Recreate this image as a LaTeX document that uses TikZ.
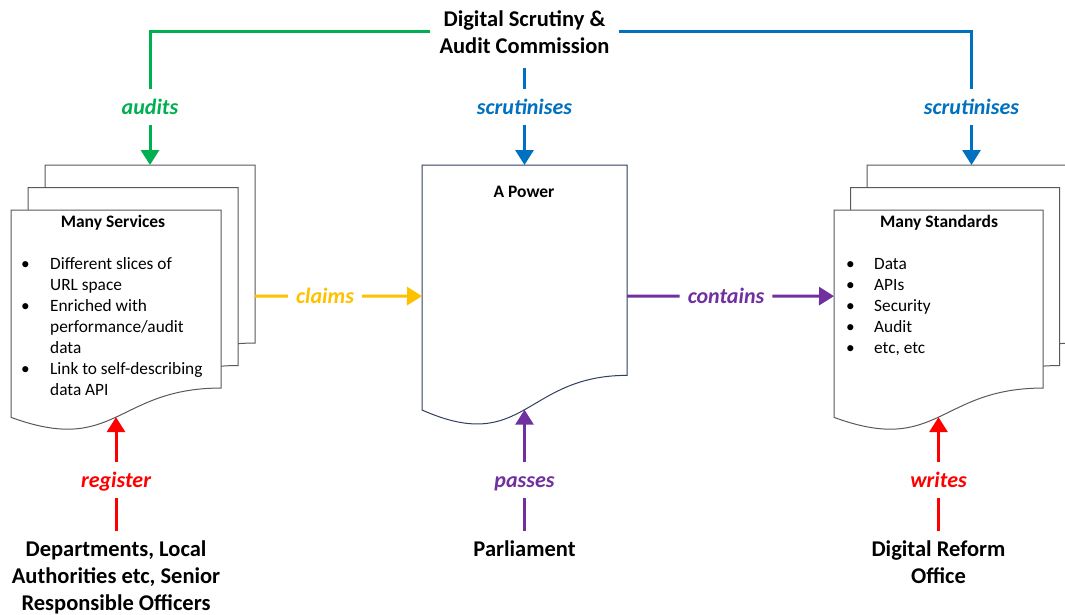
\documentclass[tikz,border=0pt]{standalone}
\usepackage{fontspec}
\setmainfont{Carlito}
\usetikzlibrary{arrows.meta}

\definecolor{audgreen}{HTML}{00B050}
\definecolor{scrblue}{HTML}{0070C0}
\definecolor{clmyellow}{HTML}{FFC000}
\definecolor{lawpurple}{HTML}{7030A0}
\definecolor{regred}{HTML}{FF0000}
\definecolor{pagegray}{HTML}{595959}
\definecolor{pagenavy}{HTML}{2F3F60}

% page with a wavy foot: [style]{name}{x}{y}{width}{height}
\newcommand\docpage[6][]{%
  \draw[page,#1] (#3,#4) -- ({#3+#5},#4) -- ({#3+#5},{#4+0.802*#6})
    .. controls ({#3+#5/2},{#4+0.802*#6}) and ({#3+#5/2},{#4+1.1075*#6}) .. (#3,{#4+0.934*#6}) -- cycle;
  \coordinate (#2-n) at ({#3+#5/2},#4);
  \coordinate (#2-s) at ({#3+#5/2},{#4+0.933*#6});
  \coordinate (#2-w) at (#3,{#4+#6/2});
  \coordinate (#2-e) at ({#3+#5},{#4+#6/2});
}

\begin{document}
\begin{tikzpicture}[x=1pt,y=-1pt,
  page/.style={draw=pagegray,line width=1pt,fill=white},
  link/.style={line width=3pt},
  tip/.style={link,-{Triangle[length=15pt,width=18pt]}},
  verb/.style={font=\fontsize{22}{26}\selectfont\bfseries\itshape,inner sep=0pt,
    text height=15pt,text depth=1pt,minimum height=36pt},
  hverb/.style={font=\fontsize{22}{26}\selectfont\bfseries\itshape,inner xsep=8pt,inner ysep=0pt},
  actor/.style={font=\fontsize{22.5}{27}\selectfont\bfseries,align=center,inner xsep=9pt,inner ysep=10pt},
  head/.style={font=\fontsize{17.5}{21}\selectfont\bfseries,anchor=base,inner sep=0pt},
  items/.style={font=\fontsize{17.3}{21}\selectfont,anchor=base west,inner sep=0pt}]

  \useasboundingbox (0,0) rectangle (1065,615);

  \docpage{svc3}{45}{165}{210}{222}
  \docpage{svc2}{28}{187.5}{210}{222}
  \docpage{svc1}{11}{210}{210}{222}
  \docpage[draw=pagenavy]{power}{422}{165}{205}{262.3}
  \docpage{std3}{867}{165}{209}{222}
  \docpage{std2}{850.5}{187.5}{209}{222}
  \docpage{std1}{834}{210}{209}{222}

  \node[head] (svchead) at (113,227) {Many Services};
  \node[items] (svclist) at (21,269) {\begin{tabular}[t]{@{}p{29pt}@{}l@{}}
    \textbullet & Different slices of\\ & URL space\\
    \textbullet & Enriched with\\ & performance/audit\\ & data\\
    \textbullet & Link to self-describing\\ & data API\end{tabular}};
  \node[head] (powerhead) at (524,197) {A Power};
  \node[head] (stdhead) at (939,227) {Many Standards};
  \node[items] (stdlist) at (846,269) {\begin{tabular}[t]{@{}p{28pt}@{}l@{}}
    \textbullet & Data\\ \textbullet & APIs\\ \textbullet & Security\\
    \textbullet & Audit\\ \textbullet & etc, etc\end{tabular}};

  \node[actor,inner ysep=14pt] (dsac) at (524.5,32) {Digital Scrutiny \&\\Audit Commission};
  \node[actor,anchor=north] (dept) at (116,531) {Departments, Local\\Authorities etc, Senior\\Responsible Officers};
  \node[actor,anchor=north] (parl) at (524.5,531) {Parliament};
  \node[actor,anchor=north] (dro) at (938.5,531) {Digital Reform\\Office};

  \node[verb,audgreen] (audits) at (150,107) {audits};
  \node[verb,scrblue] (scrpower) at (524.5,107) {scrutinises};
  \node[verb,scrblue] (scrstd) at (971.5,107) {scrutinises};
  \node[hverb,clmyellow] (claims) at (325,296) {claims};
  \node[hverb,lawpurple] (contains) at (726,296) {contains};
  \node[verb,regred] (register) at (116,480) {register};
  \node[verb,lawpurple] (passes) at (524.5,480) {passes};
  \node[verb,regred] (writes) at (938.5,480) {writes};

  \draw[link,audgreen] (dsac.west) -| (audits.north);
  \draw[tip,audgreen] (audits.south) -- (svc3-n);
  \draw[link,scrblue] (dsac.south) -- (scrpower.north);
  \draw[tip,scrblue] (scrpower.south) -- (power-n);
  \draw[link,scrblue] (dsac.east) -| (scrstd.north);
  \draw[tip,scrblue] (scrstd.south) -- (std3-n);

  \draw[link,clmyellow] (power-w -| svc3-e) -- (claims.west);
  \draw[tip,clmyellow] (claims.east) -- (power-w);
  \draw[link,lawpurple] (power-e) -- (contains.west);
  \draw[tip,lawpurple] (contains.east) -- (power-e -| std1-w);

  \draw[link,regred] (dept.north) -- (register.south);
  \draw[tip,regred] (register.north) -- (svc1-s);
  \draw[link,lawpurple] (parl.north) -- (passes.south);
  \draw[tip,lawpurple] (passes.north) -- (power-s);
  \draw[link,regred] (dro.north) -- (writes.south);
  \draw[tip,regred] (writes.north) -- (std1-s);

\end{tikzpicture}
\end{document}
